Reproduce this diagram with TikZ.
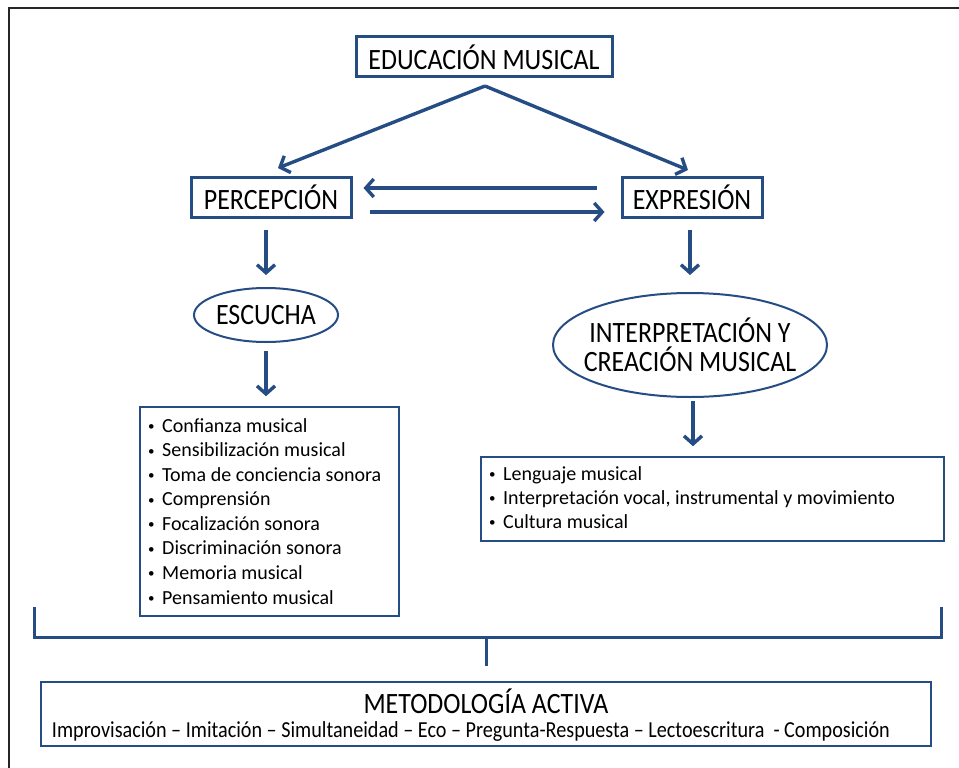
\documentclass[tikz,border=0pt]{standalone}
\usepackage{fontspec}
\setmainfont{Carlito}
\newfontfamily\condfont{Carlito}[FakeStretch=0.88]
\usetikzlibrary{arrows.meta,shapes.geometric,calc}
\definecolor{mblue}{RGB}{38,76,132}
\newcommand{\bul}{\makebox[14pt][l]{\raisebox{1.5pt}{\scalebox{0.65}{•}}}}
\begin{document}
\begin{tikzpicture}[x=1pt,y=-1pt,
  headfont/.style={font=\condfont\fontsize{29.5}{30}\selectfont},
  headbox/.style={draw=mblue,line width=3pt,headfont,minimum height=40pt,inner sep=0pt},
  ellip/.style={ellipse,draw=mblue,line width=2pt,inner sep=0pt},
  listbox/.style={draw=mblue,line width=1.6pt,inner sep=0pt},
  listtxt/.style={font=\fontsize{20}{24}\selectfont,anchor=base west,inner sep=0pt},
  arr/.style={draw=mblue,line width=3.4pt,-{Straight Barb[length=8pt,width=18pt]}},
  brk/.style={draw=mblue,line width=3pt}]
\useasboundingbox (0,0) rectangle (959,768);
% outer frame (top and left edges)
\draw[line width=2.5pt,black!85] (9,768) -- (9,8) -- (959,8);

\node[headbox,minimum width=256pt] (edu) at (484,57) {EDUCACIÓN MUSICAL};
\node[headbox,minimum width=160pt] (perc) at (271,197) {PERCEPCIÓN};
\node[headbox,minimum width=140pt] (expr) at (692,197) {EXPRESIÓN};
\node[ellip,minimum width=144pt,minimum height=54pt] (esc) at (266,315) {};
\node[headfont] (esct) at (esc.center) {ESCUCHA};
\node[ellip,minimum width=274pt,minimum height=104pt] (interp) at (690,345) {};
\node[headfont,align=center,inner sep=0pt] (interpt) at (interp.center)
  {INTERPRETACIÓN Y\\[-1pt]CREACIÓN MUSICAL};

\node[listbox,minimum width=259pt,minimum height=209pt] (llist) at (269.5,511.5) {};
\node[listbox,minimum width=463pt,minimum height=84pt] (rlist) at (712.5,499) {};

\node[listtxt] (l1) at (148,432) {\bul Confianza musical};
\node[listtxt] (l2) at (148,456.6) {\bul Sensibilización musical};
\node[listtxt] (l3) at (148,481.1) {\bul Toma de conciencia sonora};
\node[listtxt] (l4) at (148,505.7) {\bul Comprensión};
\node[listtxt] (l5) at (148,530.3) {\bul Focalización sonora};
\node[listtxt] (l6) at (148,554.9) {\bul Discriminación sonora};
\node[listtxt] (l7) at (148,579.4) {\bul Memoria musical};
\node[listtxt] (l8) at (148,604) {\bul Pensamiento musical};

\node[listtxt] (r1) at (489,480) {\bul Lenguaje musical};
\node[listtxt] (r2) at (489,504) {\bul Interpretación vocal, instrumental y movimiento};
\node[listtxt] (r3) at (489,528) {\bul Cultura musical};

\node[draw=mblue,line width=2pt,minimum width=890pt,minimum height=64pt,inner sep=0pt] (mbox) at (486,714) {};
\node[headfont,anchor=base,inner sep=0pt] (mtitle) at (486,713) {METODOLOGÍA ACTIVA};
\node[anchor=base,inner sep=0pt] (msub) at (471,737)
  {\resizebox{838pt}{!}{\condfont\fontsize{21}{24}\selectfont Improvisación – Imitación – Simultaneidad – Eco – Pregunta-Respuesta – Lectoescritura~ - Composición}};

% arrows
\coordinate (apex) at (485,86);
\draw[arr] (apex) -- (278,168);
\draw[arr] (apex) -- (688,170);
\draw[arr] ([xshift=-24pt,yshift=9pt]expr.west) -- ([xshift=11pt,yshift=9pt]perc.east);
\draw[arr] ([xshift=17pt,yshift=-15pt]perc.east) -- ([xshift=-16pt,yshift=-15pt]expr.west);
\draw[arr] ($(perc.south)+(-5,11)$) -- ($(esc.north)+(0,-12)$);
\draw[arr] ($(esc.south)+(0,8)$) -- ($(esc.south |- llist.north)+(0,-10)$);
\draw[arr] ($(expr.south)+(-2,11)$) -- ($(interp.north)+(0,-17)$);
\draw[arr] ($(interp.south)+(3,3)$) -- ($(interp.south |- rlist.north)+(3,-10)$);

% bracket
\coordinate (bl) at (34,607);
\coordinate (br) at (941,607);
\coordinate (bm) at (486,637);
\draw[brk] (bl) -- (bl |- bm) -- (br |- bm) -- (br);
\draw[brk] (bm) -- ($(mbox.north -| bm)+(0,-15)$);
\end{tikzpicture}
\end{document}
